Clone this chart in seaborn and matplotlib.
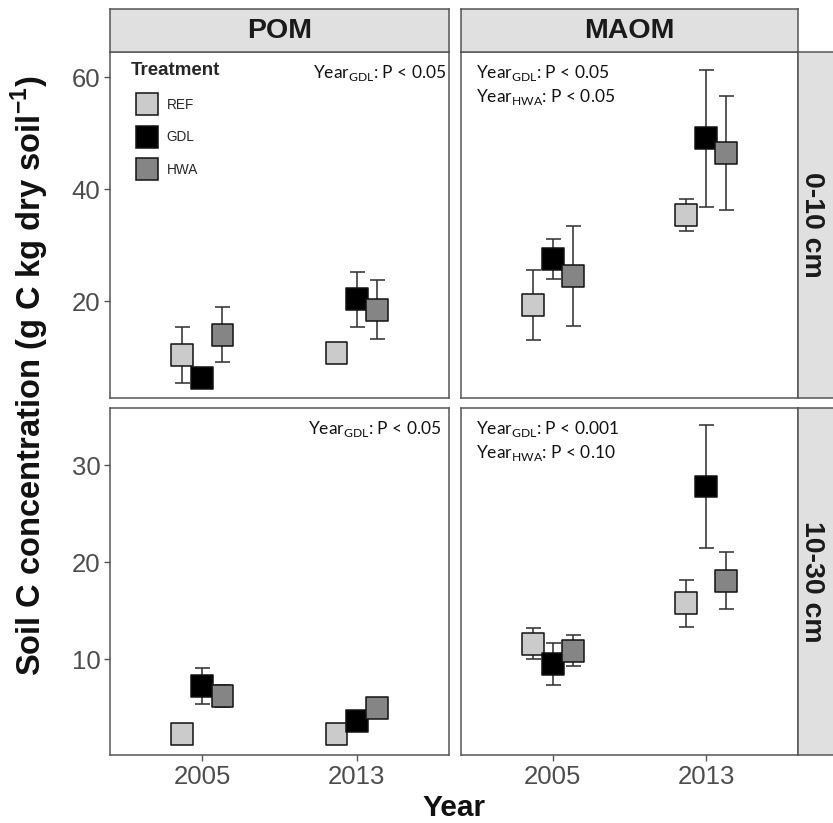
import matplotlib
matplotlib.use("Agg")
import matplotlib.pyplot as plt
from matplotlib.lines import Line2D
import numpy as np
import pandas as pd
import seaborn as sns

# ---------------- data ----------------
years = ["2005", "2013"]
treatments = ["REF", "GDL", "HWA"]
fractions = ["POM", "MAOM"]
depths = ["0-10 cm", "10-30 cm"]

# values ordered: 2005 REF, GDL, HWA, 2013 REF, GDL, HWA
pom_0_10_mean = [10.3, 6.3, 14.0, 10.8, 20.3, 18.5]
pom_0_10_se = [5.0, 1.5, 4.9, 1.0, 4.9, 5.3]
maom_0_10_mean = [19.3, 27.5, 24.5, 35.4, 49.1, 46.4]
maom_0_10_se = [6.3, 3.6, 9.0, 2.8, 12.2, 10.2]
pom_10_30_mean = [2.3, 7.25, 6.2, 2.3, 3.65, 4.9]
pom_10_30_se = [0.5, 1.85, 1.15, 0.5, 0.6, 0.6]
maom_10_30_mean = [11.6, 9.5, 10.85, 15.75, 27.8, 18.1]
maom_10_30_se = [1.6, 2.15, 1.6, 2.4, 6.3, 2.9]

annotations = {
    ("0-10 cm", "POM"): ["Year$_{\\mathrm{GDL}}$: P < 0.05"],
    ("0-10 cm", "MAOM"): ["Year$_{\\mathrm{GDL}}$: P < 0.05", "Year$_{\\mathrm{HWA}}$: P < 0.05"],
    ("10-30 cm", "POM"): ["Year$_{\\mathrm{GDL}}$: P < 0.05"],
    ("10-30 cm", "MAOM"): ["Year$_{\\mathrm{GDL}}$: P < 0.001", "Year$_{\\mathrm{HWA}}$: P < 0.10"],
}

y_ticks = {"0-10 cm": [20, 40, 60], "10-30 cm": [10, 20, 30]}
y_lims = {"0-10 cm": (2.7, 64.5), "10-30 cm": (0.1, 35.9)}

colors = {"REF": "#cbcbcb", "GDL": "#000000", "HWA": "#858585"}

panel_values = {
    ("0-10 cm", "POM"): (pom_0_10_mean, pom_0_10_se),
    ("0-10 cm", "MAOM"): (maom_0_10_mean, maom_0_10_se),
    ("10-30 cm", "POM"): (pom_10_30_mean, pom_10_30_se),
    ("10-30 cm", "MAOM"): (maom_10_30_mean, maom_10_30_se),
}

records = []
for (depth, frac), (means, ses) in panel_values.items():
    k = 0
    for yi, yr in enumerate(years):
        for ti, tr in enumerate(treatments):
            records.append(dict(depth=depth, fraction=frac, year=yr, year_idx=yi,
                                treat_idx=ti, Treatment=tr, mean=means[k], se=ses[k]))
            k += 1
df = pd.DataFrame(records)
dodge = 0.13
df["xpos"] = df["year_idx"] + (df["treat_idx"] - 1) * dodge

# ---------------- style ----------------
sns.set_theme(style="white")
plt.rcParams["font.family"] = ["Liberation Sans", "DejaVu Sans"]
plt.rcParams["mathtext.fontset"] = "custom"
plt.rcParams["mathtext.rm"] = "Lato"
plt.rcParams["mathtext.bf"] = "Liberation Sans:bold"

W, H = 833, 823
fig = plt.figure(figsize=(W / 100, H / 100), dpi=100)
fig.patch.set_facecolor("white")


def rect(x0, y0, x1, y1):
    return [x0 / W, 1 - y1 / H, (x1 - x0) / W, (y1 - y0) / H]


def fx(px):
    return px / W


def fy(py):
    return 1 - py / H


col_x = [(110, 449), (461, 798)]
row_y = [(52, 398), (408, 755)]
border_col = "#555555"
strip_col = "#e0e0e0"
tick_lab_col = "#4d4d4d"
marker_s = 250

for ri, depth in enumerate(depths):
    for ci, frac in enumerate(fractions):
        x0, x1 = col_x[ci]
        y0, y1 = row_y[ri]
        ax = fig.add_axes(rect(x0, y0, x1, y1))
        sub = df[(df.depth == depth) & (df.fraction == frac)]
        ax.errorbar(sub["xpos"], sub["mean"], yerr=sub["se"], fmt="none",
                    ecolor="#333333", elinewidth=1.15, capsize=5.4, capthick=1.15, zorder=2)
        sns.scatterplot(data=sub, x="xpos", y="mean", hue="Treatment",
                        hue_order=treatments, palette=colors, marker="s",
                        s=marker_s, edgecolor="#111111", linewidth=1.1,
                        legend=False, ax=ax, zorder=3)
        ax.set_xlim(-0.6, 1.6)
        ax.set_ylim(*y_lims[depth])
        ax.set_xlabel("")
        ax.set_ylabel("")
        ax.grid(False)
        for sp in ax.spines.values():
            sp.set_color(border_col)
            sp.set_linewidth(1.1)
        ax.set_xticks(range(len(years)))
        ax.set_xticklabels(years)
        ax.set_yticks(y_ticks[depth])
        ax.tick_params(axis="both", colors=border_col, labelcolor=tick_lab_col,
                       labelsize=18.5, length=4.5, width=1.0, pad=2.5)
        ax.tick_params(axis="x", bottom=(ri == 1), labelbottom=(ri == 1))
        ax.tick_params(axis="y", left=(ci == 0), labelleft=(ci == 0))

        # annotations
        lines = annotations[(depth, frac)]
        if frac == "POM":
            xr = 446 if ri == 0 else 441
            fig.text(fx(xr), fy(y0 + 11), lines[0], ha="right", va="top",
                     fontsize=12.5, family="Lato", color="#111111")
        else:
            for li, t in enumerate(lines):
                fig.text(fx(476), fy(y0 + 11 + 24 * li), t, ha="left", va="top",
                         fontsize=12.5, family="Lato", color="#111111")

        if ri == 0 and ci == 0:
            handles = [Line2D([], [], marker="s", ms=15.8, mfc=colors[t], mec="#111111",
                              mew=1.1, ls="") for t in treatments]
            leg = ax.legend(handles, treatments, title="Treatment", loc="upper left",
                            bbox_to_anchor=(fx(131), fy(62)), bbox_transform=fig.transFigure,
                            frameon=False, fontsize=9.8, borderpad=0, borderaxespad=0,
                            labelspacing=1.37, handletextpad=0.25, handlelength=2.35,
                            alignment="left",
                            title_fontproperties={"weight": "bold", "size": 13.5})

# top strips
for ci, frac in enumerate(fractions):
    x0, x1 = col_x[ci]
    sax = fig.add_axes(rect(x0, 9, x1, 52))
    sax.set_facecolor(strip_col)
    sax.set_xticks([])
    sax.set_yticks([])
    for sp in sax.spines.values():
        sp.set_color(border_col)
        sp.set_linewidth(1.1)
    sax.text(0.5, 0.5, frac, transform=sax.transAxes, ha="center", va="center",
             fontsize=20.5, fontweight="bold", color="#1a1a1a")

# right strips
for ri, depth in enumerate(depths):
    y0, y1 = row_y[ri]
    sax = fig.add_axes(rect(798, y0, 848, y1))
    sax.set_facecolor(strip_col)
    sax.set_xticks([])
    sax.set_yticks([])
    for sp in sax.spines.values():
        sp.set_color(border_col)
        sp.set_linewidth(1.1)
    fig.text(fx(812), fy((y0 + y1) / 2), depth, rotation=-90, ha="center", va="center",
             fontsize=20.5, fontweight="bold", color="#1a1a1a")

# axis titles
fig.text(fx(454), fy(816.5), "Year", ha="center", va="baseline",
         fontsize=21.5, fontweight="bold", color="#111111")
fig.text(fx(30), fy(376), "Soil C concentration (g C kg dry soil$^{\\mathbf{-1}}$)",
         rotation=90, ha="center", va="center", fontsize=23.5, fontweight="bold",
         color="#111111")

fig.savefig("out.png", dpi=100)
